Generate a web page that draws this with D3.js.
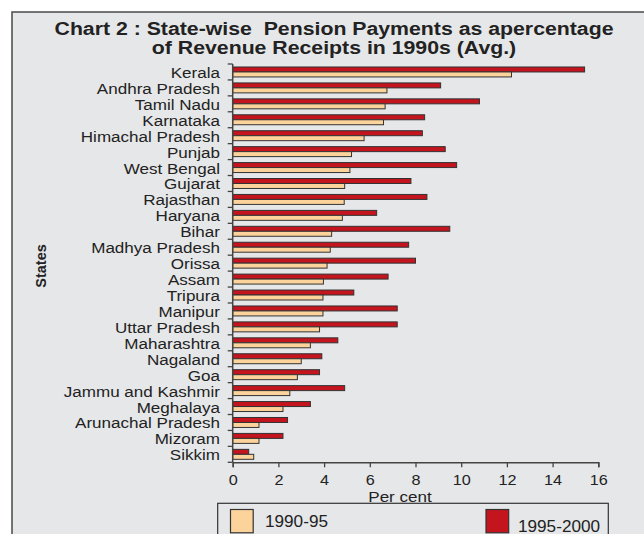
<!DOCTYPE html>
<html>
<head>
<meta charset="utf-8">
<script src="https://cdn.jsdelivr.net/npm/d3@7"></script>
<style>
  html, body { margin: 0; padding: 0; background: #fff; }
  svg { display: block; }
  text { font-family: "Liberation Sans", Arial, Helvetica, sans-serif; fill: #222; white-space: pre; }
</style>
</head>
<body>
<svg id="chart" width="644" height="534"></svg>
<script>
const states = ["Kerala","Andhra Pradesh","Tamil Nadu","Karnataka","Himachal Pradesh","Punjab","West Bengal","Gujarat","Rajasthan","Haryana","Bihar","Madhya Pradesh","Orissa","Assam","Tripura","Manipur","Uttar Pradesh","Maharashtra","Nagaland","Goa","Jammu and Kashmir","Meghalaya","Arunachal Pradesh","Mizoram","Sikkim"];
const values9095 = [12.2,6.75,6.67,6.6,5.75,5.2,5.13,4.9,4.88,4.8,4.33,4.27,4.13,3.97,3.95,3.95,3.8,3.4,3.0,2.83,2.5,2.2,1.15,1.15,0.92];
const values9500 = [15.4,9.1,10.8,8.4,8.3,9.3,9.8,7.8,8.5,6.3,9.5,7.7,8.0,6.8,5.3,7.2,7.2,4.6,3.9,3.8,4.9,3.4,2.4,2.2,0.7];
const seriesNames = ["1990-95","1995-2000"];
const xTicks = [0,2,4,6,8,10,12,14,16];
const titleLines = ["Chart 2 : State-wise  Pension Payments as apercentage","of Revenue Receipts in 1990s (Avg.)"];

const colors = {"1990-95":"#fdd39c","1995-2000":"#c4141e"};
const svg = d3.select("#chart");

// background panel
svg.append("rect").attr("x",12).attr("y",12).attr("width",640).attr("height",530)
  .attr("fill","#e6e7e9").attr("stroke","#4a4a4a").attr("stroke-width",1.5);

// title (reference face is wider: scale horizontally)
svg.selectAll("text.title").data(titleLines).join("text")
  .attr("class","title")
  .attr("transform",(d,i)=>`translate(334,${35+i*19}) scale(1.12,1)`)
  .attr("text-anchor","middle")
  .attr("font-weight","bold").attr("font-size","19px")
  .attr("xml:space","preserve")
  .text(d=>d);

const x = d3.scaleLinear().domain([0,16]).range([232.7,598.3]);
const y = d3.scaleBand().domain(states).range([64,462.3]).padding(0);
const ySub = d3.scaleBand().domain(["1995-2000","1990-95"]).range([0,y.bandwidth()]).paddingInner(0).paddingOuter(0.6);

const rows = states.map((s,i)=>({state:s, "1990-95":values9095[i], "1995-2000":values9500[i]}));

const g = svg.append("g");
const grp = g.selectAll("g.row").data(rows).join("g")
  .attr("transform",d=>`translate(0,${y(d.state)})`);
grp.selectAll("rect").data(d=>["1995-2000","1990-95"].map(k=>({k, v:d[k]}))).join("rect")
  .attr("x",x(0))
  .attr("y",d=>ySub(d.k))
  .attr("width",d=>x(d.v)-x(0))
  .attr("height",ySub.bandwidth())
  .attr("fill",d=>colors[d.k])
  .attr("stroke","#333").attr("stroke-width",1);

// y axis: line + ticks at band boundaries
const yAxisG = svg.append("g");
yAxisG.append("line").attr("x1",x(0)).attr("x2",x(0)).attr("y1",y.range()[0]).attr("y2",y.range()[1])
  .attr("stroke","#444").attr("stroke-width",1.5);
const bounds = states.map(s=>y(s)).concat([y.range()[1]]);
yAxisG.selectAll("line.tk").data(bounds).join("line").attr("class","tk")
  .attr("x1",x(0)-5).attr("x2",x(0)).attr("y1",d=>d).attr("y2",d=>d)
  .attr("stroke","#444").attr("stroke-width",1.3);
yAxisG.selectAll("text").data(states).join("text")
  .attr("transform",d=>`translate(220,${y(d)+y.bandwidth()/2+6}) scale(1.1,1)`)
  .attr("text-anchor","end").attr("font-size","15.5px")
  .text(d=>d);

// x axis
const xAxis = d3.axisBottom(x).tickValues(xTicks).tickSize(5).tickPadding(7).tickFormat(d3.format("d"));
const xg = svg.append("g").attr("transform",`translate(0,${y.range()[1]})`).call(xAxis);
xg.select(".domain").attr("stroke","#444").attr("stroke-width",1.5);
xg.selectAll(".tick line").attr("stroke","#444").attr("stroke-width",1.3);
xg.selectAll(".tick text").attr("font-size","15px").attr("fill","#222")
  .attr("font-family","\"Liberation Sans\", Arial, sans-serif")
  .attr("transform","scale(1.08,1)");

svg.append("text").attr("transform","translate(400,501.5) scale(1.1,1)").attr("text-anchor","middle")
  .attr("font-size","15.5px").text("Per cent");

svg.append("text").attr("transform","translate(46,266) rotate(-90)")
  .attr("text-anchor","middle").attr("font-weight","bold").attr("font-size","14.5px")
  .text("States");

// legend
svg.append("rect").attr("x",217.7).attr("y",503.3).attr("width",390.6).attr("height",60)
  .attr("fill","#e6e7e9").attr("stroke","#333").attr("stroke-width",1.2);
const legendItems = [
  {name:seriesNames[0], sx:230.5, tx:265, ty:526.5},
  {name:seriesNames[1], sx:486, tx:518, ty:531.5}
];
svg.selectAll("rect.lg").data(legendItems).join("rect").attr("class","lg")
  .attr("x",d=>d.sx).attr("y",509.5).attr("width",22.7).attr("height",23.3)
  .attr("fill",d=>colors[d.name]).attr("stroke","#333").attr("stroke-width",1.2);
svg.selectAll("text.lg").data(legendItems).join("text").attr("class","lg")
  .attr("transform",d=>`translate(${d.tx},${d.ty}) scale(1.04,1)`).attr("font-size","16.5px")
  .text(d=>d.name);
</script>
</body>
</html>
